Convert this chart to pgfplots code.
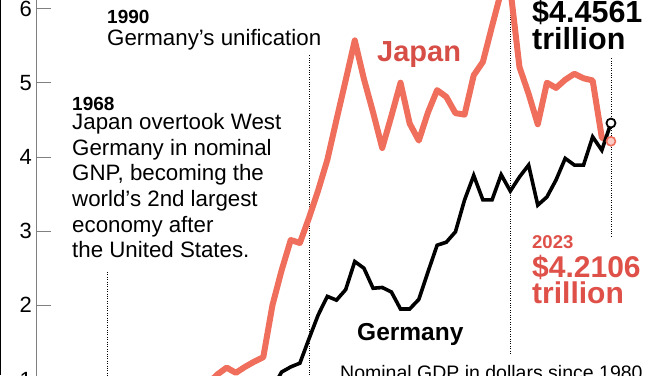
\documentclass[border=0pt]{standalone}
\usepackage{fontspec}
\setmainfont{Liberation Sans}
\usepackage{pgfplots}
\pgfplotsset{compat=1.18}
\definecolor{jp}{RGB}{240,110,92}
\definecolor{jptext}{RGB}{214,78,70}
\definecolor{red23}{RGB}{222,80,72}
\begin{document}
\begin{tikzpicture}[x=1pt,y=1pt]
\path[use as bounding box, clip] (0,0) rectangle (660,375);
\fill[white] (0,0) rectangle (660,375);
\begin{axis}[
  at={(36pt,-41.6pt)}, anchor=south west,
  scale only axis, width=639pt, height=445.2pt,
  xmin=1960.16, xmax=2030, ymin=0.5, ymax=6.5,
  hide x axis, axis y line*=left,
  y axis line style={gray, line width=0.8pt, -},
  ytick={1,2,3,4,5,6},
  tick align=inside,
  major tick length=15pt,
  ytick style={gray, line width=0.8pt},
  yticklabel style={font=\fontsize{22}{22}\selectfont, inner sep=0pt, xshift=-4pt},
  /pgf/number format/assume math mode=true,
]
\draw[black, line width=0.6pt, dash pattern=on 0.8pt off 1.6pt] (axis cs:1968,2.45) -- (axis cs:1968,0.5);
\draw[black, line width=0.6pt, dash pattern=on 0.8pt off 1.6pt] (axis cs:1990,5.37) -- (axis cs:1990,0.5);
\draw[black, line width=0.6pt, dash pattern=on 0.8pt off 1.6pt] (axis cs:2012,6.5) -- (axis cs:2012,1.33);
\draw[black, line width=0.6pt, dash pattern=on 0.8pt off 1.6pt] (axis cs:2023,5.33) -- (axis cs:2023,2.91);
% Japan
\addplot[jp, line width=6pt, line join=round] coordinates {
(1978,0.90) (1979,0.95) (1980,1.07) (1981,1.16) (1982,1.09) (1983,1.17) (1984,1.24)
(1985,1.30) (1986,2.00) (1987,2.47) (1988,2.88) (1989,2.84) (1990,3.18)
(1991,3.55) (1992,3.96) (1993,4.50) (1994,5.03) (1995,5.57) (1996,5.05)
(1997,4.60) (1998,4.12) (1999,4.55) (2000,5.00) (2001,4.45) (2002,4.22)
(2003,4.60) (2004,4.90) (2005,4.81) (2006,4.59) (2007,4.57) (2008,5.10)
(2009,5.28) (2010,5.76) (2011,6.23) (2012,6.27) (2013,5.21) (2014,4.85)
(2015,4.44) (2016,5.00) (2017,4.93) (2018,5.04) (2019,5.12) (2020,5.06)
(2021,5.03) (2022,4.26) (2023,4.2106)};
% Germany
\addplot[black, line width=3.6pt, line join=miter] coordinates {
(1985,0.70) (1986,0.88) (1987,1.10) (1988,1.17) (1989,1.22) (1990,1.55)
(1991,1.87) (1992,2.12) (1993,2.07) (1994,2.21) (1995,2.59) (1996,2.50)
(1997,2.23) (1998,2.24) (1999,2.18) (2000,1.95) (2001,1.95) (2002,2.08)
(2003,2.45) (2004,2.81) (2005,2.85) (2006,2.99) (2007,3.42) (2008,3.75)
(2009,3.42) (2010,3.42) (2011,3.76) (2012,3.54) (2013,3.73) (2014,3.89)
(2015,3.35) (2016,3.46) (2017,3.69) (2018,3.98) (2019,3.89) (2020,3.89)
(2021,4.27) (2022,4.09) (2023,4.4561)};
\addplot[only marks, mark=*, mark size=4.5pt, mark options={draw=jp, fill=jp!35, line width=1.6pt}] coordinates {(2023,4.2106)};
\addplot[only marks, mark=*, mark size=4.5pt, mark options={draw=black, fill=white, line width=1.8pt}] coordinates {(2023,4.4561)};
\end{axis}
\draw[black, line width=2pt] (0,0) -- (0,375);
\node[anchor=base west, inner sep=0pt, font=\fontsize{19}{19}\selectfont\bfseries] at (107,351) {1990};
\node[anchor=base west, inner sep=0pt, font=\fontsize{22.3}{25.5}\selectfont] at (107,329) {Germany’s unification};
\node[anchor=base west, inner sep=0pt, font=\fontsize{19}{19}\selectfont\bfseries] at (72,264) {1968};
\node[anchor=base west, inner sep=0pt, font=\fontsize{22.3}{25.5}\selectfont] at (72,245) {Japan overtook West};
\node[anchor=base west, inner sep=0pt, font=\fontsize{22.3}{25.5}\selectfont] at (72,219.5) {Germany in nominal};
\node[anchor=base west, inner sep=0pt, font=\fontsize{22.3}{25.5}\selectfont] at (72,194) {GNP, becoming the};
\node[anchor=base west, inner sep=0pt, font=\fontsize{22.3}{25.5}\selectfont] at (72,168.5) {world’s 2nd largest};
\node[anchor=base west, inner sep=0pt, font=\fontsize{22.3}{25.5}\selectfont] at (72,143) {economy after};
\node[anchor=base west, inner sep=0pt, font=\fontsize{22.3}{25.5}\selectfont] at (72,117.5) {the United States.};
\node[anchor=base west, inner sep=0pt, text=jptext, font=\fontsize{29}{29}\selectfont\bfseries] at (377,313) {Japan};
\node[anchor=base west, inner sep=0pt, font=\fontsize{24.5}{24.5}\selectfont\bfseries] at (357,35) {Germany};
\node[anchor=base west, inner sep=0pt, font=\fontsize{30.5}{30.5}\selectfont\bfseries] at (532,352) {\$4.4561};
\node[anchor=base west, inner sep=0pt, font=\fontsize{30.5}{30.5}\selectfont\bfseries] at (532,325) {trillion};
\node[anchor=base west, inner sep=0pt, text=red23, font=\fontsize{18.5}{18.5}\selectfont\bfseries] at (532,127) {2023};
\node[anchor=base west, inner sep=0pt, text=red23, font=\fontsize{30}{30}\selectfont\bfseries] at (532,98) {\$4.2106};
\node[anchor=base west, inner sep=0pt, text=red23, font=\fontsize{30}{30}\selectfont\bfseries] at (532,72) {trillion};
\node[anchor=base west, inner sep=0pt, font=\fontsize{19.5}{19.5}\selectfont] at (340,-4) {Nominal GDP in dollars since 1980};
\end{tikzpicture}
\end{document}
